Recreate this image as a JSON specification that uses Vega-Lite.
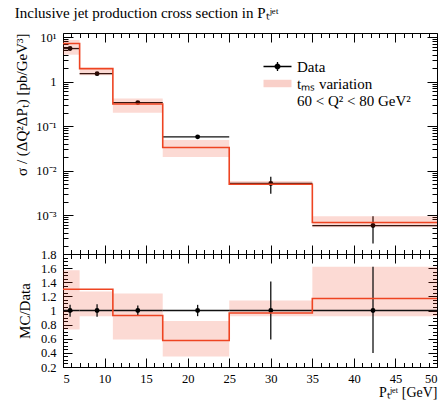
{
  "$schema": "https://vega.github.io/schema/vega-lite/v6.json",
  "width": 374,
  "height": 334,
  "autosize": {"type": "none"},
  "padding": {"left": 63, "top": 33, "right": 6, "bottom": 33},
  "background": "white",
  "title": {
    "text": "Inclusive jet production cross section in Pₜʲᵉᵗ",
    "anchor": "start",
    "font": "Liberation Serif",
    "fontSize": 15,
    "fontWeight": "normal",
    "color": "black",
    "offset": 10
  },
  "datasets": {
    "bins": [
      {"lo": 5, "hi": 7, "xc": 5.85, "data": 5.5, "dlo": 5.0, "dhi": 5.95, "blo": 4.0, "bhi": 8.6, "one": 1, "rlo": 0.91, "rhi": 1.08, "rblo": 0.73, "rbhi": 1.57, "series": "Data"},
      {"lo": 7, "hi": 11, "xc": 9.1, "data": 1.5, "dlo": 1.37, "dhi": 1.63, "blo": 1.38, "bhi": 1.9, "one": 1, "rlo": 0.91, "rhi": 1.09, "rblo": 0.92, "rbhi": 1.27, "series": "Data"},
      {"lo": 11, "hi": 17, "xc": 14, "data": 0.336, "dlo": 0.313, "dhi": 0.36, "blo": 0.198, "bhi": 0.417, "one": 1, "rlo": 0.93, "rhi": 1.07, "rblo": 0.59, "rbhi": 1.24, "series": "Data"},
      {"lo": 17, "hi": 25, "xc": 21.2, "data": 0.057, "dlo": 0.0524, "dhi": 0.0616, "blo": 0.02, "bhi": 0.0485, "one": 1, "rlo": 0.92, "rhi": 1.08, "rblo": 0.35, "rbhi": 0.85, "series": "Data"},
      {"lo": 25, "hi": 35, "xc": 30, "data": 0.0051, "dlo": 0.003, "dhi": 0.0072, "blo": 0.0047, "bhi": 0.0058, "one": 1, "rlo": 0.59, "rhi": 1.41, "rblo": 0.92, "rbhi": 1.14, "series": "Data"},
      {"lo": 35, "hi": 50, "xc": 42.3, "data": 0.00058, "dlo": 0.00023, "dhi": 0.00094, "blo": 0.00053, "bhi": 0.00094, "one": 1, "rlo": 0.4, "rhi": 1.62, "rblo": 0.92, "rbhi": 1.62, "series": "Data"}
    ],
    "steps": [
      {"x": 5, "mc": 7.15, "rmc": 1.3},
      {"x": 7, "mc": 1.95, "rmc": 1.3},
      {"x": 11, "mc": 0.3125, "rmc": 0.93},
      {"x": 17, "mc": 0.0328, "rmc": 0.575},
      {"x": 25, "mc": 0.00492, "rmc": 0.965},
      {"x": 35, "mc": 0.00068, "rmc": 1.17},
      {"x": 50, "mc": 0.00068, "rmc": 1.17}
    ]
  },
  "resolve": {"scale": {"y": "independent"}, "axis": {"x": "independent", "y": "independent"}},
  "layer": [
    {
      "data": {"name": "bins"},
      "mark": {"type": "rule", "stroke": "#111", "strokeWidth": 1.3},
      "encoding": {
        "x": {"field": "lo", "type": "quantitative", "scale": {"domain": [5, 50], "nice": false, "zero": false},
          "axis": {"orient": "top", "values": [5, 10, 15, 20, 25, 30, 35, 40, 45, 50], "tickSize": -9, "labels": false, "title": null, "domain": true}},
        "x2": {"field": "hi"},
        "y": {"field": "data", "type": "quantitative", "scale": {"type": "log", "domain": [0.000133, 12.3], "range": [221, 0], "nice": false},
          "axis": {"orient": "left", "values": [0.001, 0.01, 0.1, 1, 10], "tickSize": -10, "labelPadding": 17,
            "labelExpr": "datum.value > 5 ? '10¹' : datum.value > 0.5 ? '1' : datum.value > 0.05 ? '10⁻¹' : datum.value > 0.005 ? '10⁻²' : '10⁻³'",
            "title": "σ / (ΔQ²ΔPₜ) [pb/GeV³]", "titleAnchor": "end", "titleFontSize": 15, "titlePadding": 6, "domain": true}}
      }
    },
    {
      "data": {"name": "bins"},
      "mark": {"type": "rule", "stroke": "#111", "strokeWidth": 1.3},
      "encoding": {
        "x": {"field": "xc", "type": "quantitative", "scale": {"domain": [5, 50], "nice": false, "zero": false},
          "axis": {"orient": "top", "values": [6, 7, 8, 9, 11, 12, 13, 14, 16, 17, 18, 19, 21, 22, 23, 24, 26, 27, 28, 29, 31, 32, 33, 34, 36, 37, 38, 39, 41, 42, 43, 44, 46, 47, 48, 49], "tickSize": -4.5, "labels": false, "title": null, "domain": false}},
        "y": {"field": "dlo", "type": "quantitative", "scale": {"type": "log", "domain": [0.000133, 12.3], "range": [221, 0], "nice": false},
          "axis": {"orient": "left", "values": [0.0002, 0.0003, 0.0004, 0.0005, 0.0006, 0.0007, 0.0008, 0.0009, 0.002, 0.003, 0.004, 0.005, 0.006, 0.007, 0.008, 0.009, 0.02, 0.03, 0.04, 0.05, 0.06, 0.07, 0.08, 0.09, 0.2, 0.3, 0.4, 0.5, 0.6, 0.7, 0.8, 0.9, 2, 3, 4, 5, 6, 7, 8, 9], "tickSize": -5, "labels": false, "title": null, "domain": false}},
        "y2": {"field": "dhi"}
      }
    },
    {
      "data": {"name": "bins"},
      "mark": {"type": "point", "filled": true, "size": 24, "opacity": 1},
      "encoding": {
        "x": {"field": "xc", "type": "quantitative", "scale": {"domain": [5, 50], "nice": false, "zero": false},
          "axis": {"orient": "top", "offset": -221, "values": [5, 10, 15, 20, 25, 30, 35, 40, 45, 50], "tickSize": 9, "labels": false, "title": null, "domain": true}},
        "y": {"field": "data", "type": "quantitative", "scale": {"type": "log", "domain": [0.000133, 12.3], "range": [221, 0], "nice": false},
          "axis": {"orient": "right", "values": [0.001, 0.01, 0.1, 1, 10], "tickSize": -10, "labels": false, "title": null, "domain": true}},
        "color": {"field": "series", "type": "nominal",
          "scale": {"domain": ["Data", "tₘₛ variation", "60 < Q² < 80 GeV²"], "range": ["#000000", "#f9d0c9", "transparent"]},
          "legend": {"orient": "none", "legendX": 207, "legendY": 26, "title": null, "labelFont": "Liberation Serif", "labelFontSize": 15, "labelColor": "black", "symbolSize": 100, "labelOffset": 12, "rowPadding": 1,
            "symbolType": {"expr": "datum.value === 'Data' ? 'M-2.8,-0.13H2.8V0.13H-2.8ZM-0.13,-0.9H0.13V0.9H-0.13ZM-0.6,0A0.6,0.6,0,1,1,0.6,0A0.6,0.6,0,1,1,-0.6,0Z' : datum.value === 'tₘₛ variation' ? 'M-2.8,-0.75H2.8V0.75H-2.8Z' : 'M0,0'"}}}
      }
    },
    {
      "data": {"name": "bins"},
      "mark": {"type": "rect", "fill": "#EE3311", "fillOpacity": 0.18},
      "encoding": {
        "x": {"field": "lo", "type": "quantitative", "scale": {"domain": [5, 50], "nice": false, "zero": false},
          "axis": {"orient": "top", "offset": -221, "values": [6, 7, 8, 9, 11, 12, 13, 14, 16, 17, 18, 19, 21, 22, 23, 24, 26, 27, 28, 29, 31, 32, 33, 34, 36, 37, 38, 39, 41, 42, 43, 44, 46, 47, 48, 49], "tickSize": 4.5, "labels": false, "title": null, "domain": false}},
        "x2": {"field": "hi"},
        "y": {"field": "blo", "type": "quantitative", "scale": {"type": "log", "domain": [0.000133, 12.3], "range": [221, 0], "nice": false},
          "axis": {"orient": "right", "values": [0.0002, 0.0003, 0.0004, 0.0005, 0.0006, 0.0007, 0.0008, 0.0009, 0.002, 0.003, 0.004, 0.005, 0.006, 0.007, 0.008, 0.009, 0.02, 0.03, 0.04, 0.05, 0.06, 0.07, 0.08, 0.09, 0.2, 0.3, 0.4, 0.5, 0.6, 0.7, 0.8, 0.9, 2, 3, 4, 5, 6, 7, 8, 9], "tickSize": -5, "labels": false, "title": null, "domain": false}},
        "y2": {"field": "bhi"}
      }
    },
    {
      "data": {"name": "steps"},
      "mark": {"type": "line", "interpolate": "step-after", "stroke": "#EE4422", "strokeWidth": 1.6},
      "encoding": {
        "x": {"field": "x", "type": "quantitative", "scale": {"domain": [5, 50], "nice": false, "zero": false}, "axis": null},
        "y": {"field": "mc", "type": "quantitative", "scale": {"type": "log", "domain": [0.000133, 12.3], "range": [221, 0], "nice": false}, "axis": null}
      }
    },
    {
      "data": {"name": "bins"},
      "mark": {"type": "rect", "fill": "#EE3311", "fillOpacity": 0.18},
      "encoding": {
        "x": {"field": "lo", "type": "quantitative", "scale": {"domain": [5, 50], "nice": false, "zero": false},
          "axis": {"orient": "bottom", "offset": -113, "values": [5, 10, 15, 20, 25, 30, 35, 40, 45, 50], "tickSize": 9, "labels": false, "title": null, "domain": false}},
        "x2": {"field": "hi"},
        "y": {"field": "rblo", "type": "quantitative", "scale": {"domain": [0.2, 1.8], "range": [334, 221], "nice": false, "zero": false},
          "axis": {"orient": "left", "values": [0.2, 0.4, 0.6, 0.8, 1, 1.2, 1.4, 1.6, 1.8], "tickSize": -9, "labelPadding": 16,
            "labelExpr": "datum.value == 1 ? '1' : format(datum.value, '.1f')",
            "title": "MC/Data", "titleFontSize": 15, "titlePadding": 8, "domain": true}},
        "y2": {"field": "rbhi"}
      }
    },
    {
      "data": {"name": "bins"},
      "mark": {"type": "rule", "stroke": "#111", "strokeWidth": 1.5},
      "encoding": {
        "x": {"field": "lo", "type": "quantitative", "scale": {"domain": [5, 50], "nice": false, "zero": false},
          "axis": {"orient": "bottom", "offset": -113, "values": [6, 7, 8, 9, 11, 12, 13, 14, 16, 17, 18, 19, 21, 22, 23, 24, 26, 27, 28, 29, 31, 32, 33, 34, 36, 37, 38, 39, 41, 42, 43, 44, 46, 47, 48, 49], "tickSize": 4.5, "labels": false, "title": null, "domain": false}},
        "x2": {"field": "hi"},
        "y": {"field": "one", "type": "quantitative", "scale": {"domain": [0.2, 1.8], "range": [334, 221], "nice": false, "zero": false},
          "axis": {"orient": "left", "values": [0.25, 0.3, 0.35, 0.45, 0.5, 0.55, 0.65, 0.7, 0.75, 0.85, 0.9, 0.95, 1.05, 1.1, 1.15, 1.25, 1.3, 1.35, 1.45, 1.5, 1.55, 1.65, 1.7, 1.75], "tickSize": -4.5, "labels": false, "title": null, "domain": false}}
      }
    },
    {
      "data": {"name": "bins"},
      "mark": {"type": "rule", "stroke": "#111", "strokeWidth": 1.3},
      "encoding": {
        "x": {"field": "xc", "type": "quantitative", "scale": {"domain": [5, 50], "nice": false, "zero": false},
          "axis": {"orient": "bottom", "values": [5, 10, 15, 20, 25, 30, 35, 40, 45, 50], "tickSize": -9, "labelPadding": 14, "format": "d",
            "title": "Pₜʲᵉᵗ [GeV]", "titleAnchor": "end", "titleFontSize": 14, "titlePadding": 1, "domain": true}},
        "y": {"field": "rlo", "type": "quantitative", "scale": {"domain": [0.2, 1.8], "range": [334, 221], "nice": false, "zero": false},
          "axis": {"orient": "right", "values": [0.2, 0.4, 0.6, 0.8, 1, 1.2, 1.4, 1.6, 1.8], "tickSize": -9, "labels": false, "title": null, "domain": true}},
        "y2": {"field": "rhi"}
      }
    },
    {
      "data": {"name": "bins"},
      "mark": {"type": "point", "filled": true, "size": 24, "opacity": 1, "color": "black"},
      "encoding": {
        "x": {"field": "xc", "type": "quantitative", "scale": {"domain": [5, 50], "nice": false, "zero": false},
          "axis": {"orient": "bottom", "values": [6, 7, 8, 9, 11, 12, 13, 14, 16, 17, 18, 19, 21, 22, 23, 24, 26, 27, 28, 29, 31, 32, 33, 34, 36, 37, 38, 39, 41, 42, 43, 44, 46, 47, 48, 49], "tickSize": -4.5, "labels": false, "title": null, "domain": false}},
        "y": {"field": "one", "type": "quantitative", "scale": {"domain": [0.2, 1.8], "range": [334, 221], "nice": false, "zero": false},
          "axis": {"orient": "right", "values": [0.25, 0.3, 0.35, 0.45, 0.5, 0.55, 0.65, 0.7, 0.75, 0.85, 0.9, 0.95, 1.05, 1.1, 1.15, 1.25, 1.3, 1.35, 1.45, 1.5, 1.55, 1.65, 1.7, 1.75], "tickSize": -4.5, "labels": false, "title": null, "domain": false}}
      }
    },
    {
      "data": {"name": "steps"},
      "mark": {"type": "line", "interpolate": "step-after", "stroke": "#EE4422", "strokeWidth": 1.6},
      "encoding": {
        "x": {"field": "x", "type": "quantitative", "scale": {"domain": [5, 50], "nice": false, "zero": false}, "axis": null},
        "y": {"field": "rmc", "type": "quantitative", "scale": {"domain": [0.2, 1.8], "range": [334, 221], "nice": false, "zero": false}, "axis": null}
      }
    }
  ],
  "config": {
    "view": {"stroke": null},
    "axis": {
      "grid": false,
      "domainColor": "black",
      "domainWidth": 1,
      "tickColor": "black",
      "tickWidth": 1,
      "labelColor": "black",
      "titleColor": "black",
      "labelFont": "Liberation Serif",
      "titleFont": "Liberation Serif",
      "labelFontSize": 12.5,
      "titleFontSize": 14,
      "titleFontWeight": "normal"
    }
  }
}
